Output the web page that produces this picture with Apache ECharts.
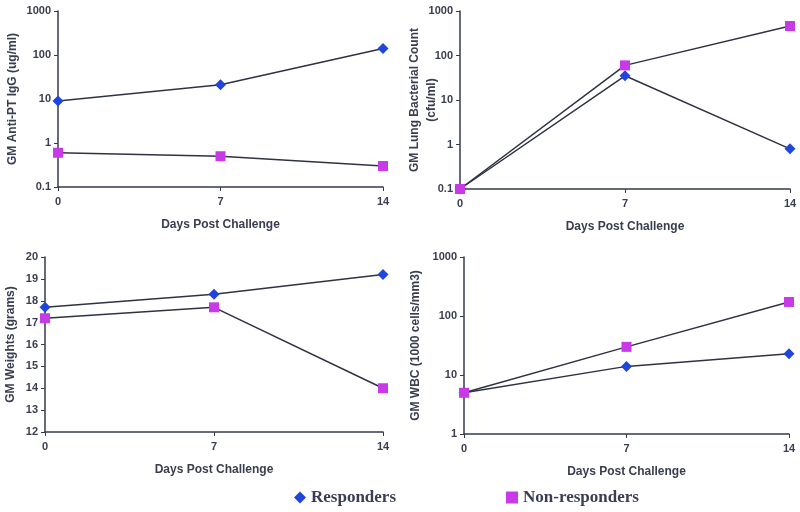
<!DOCTYPE html>
<html>
<head>
<meta charset="utf-8">
<script src="https://cdn.jsdelivr.net/npm/echarts@6/dist/echarts.min.js"></script>
<style>
  html, body { margin: 0; padding: 0; background: #fff; }
  #chart { width: 800px; height: 512px; }
</style>
</head>
<body>
<div id="chart"></div>
<script>
// days after challenge
const days = [0, 7, 14];

// GM anti-PT IgG (ug/ml)
const iggResp = [9, 21, 140];
const iggNon = [0.6, 0.5, 0.3];

// GM lung bacterial count (cfu/ml)
const lungResp = [0.1, 35, 0.8];
const lungNon = [0.1, 60, 460];

// GM weights (grams)
const weightResp = [17.7, 18.3, 19.2];
const weightNon = [17.2, 17.7, 14.0];

// GM WBC (1000 cells/mm3)
const wbcResp = [5, 14, 23];
const wbcNon = [5, 30, 173];

const axisColor = '#363a4c';
const textColor = '#3a3d4f';
const font = 'Liberation Sans';

const pairs = arr => days.map((d, i) => [d, arr[i]]);

const grids = [
  { left: 58, top: 11, width: 325, height: 176 },
  { left: 460, top: 11, width: 330, height: 178 },
  { left: 45, top: 257, width: 338, height: 175 },
  { left: 464, top: 257, width: 325, height: 177 }
];

const xAxis = grids.map((g, i) => ({
  type: 'value',
  gridIndex: i,
  min: 0,
  max: 14,
  interval: 7,
  name: 'Days Post Challenge',
  nameLocation: 'middle',
  nameGap: 32,
  nameTextStyle: { color: textColor, fontFamily: font, fontWeight: 'bold', fontSize: 12 },
  axisLine: { lineStyle: { color: axisColor, width: 1.5 } },
  axisTick: { show: true, length: 4, lineStyle: { color: axisColor } },
  axisLabel: { color: textColor, fontFamily: font, fontWeight: 'bold', fontSize: 11, margin: 9 },
  splitLine: { show: false }
}));

const yBase = {
  axisLine: { show: true, lineStyle: { color: axisColor, width: 1.5 } },
  axisTick: { show: true, length: 4, lineStyle: { color: axisColor } },
  axisLabel: { color: textColor, fontFamily: font, fontWeight: 'bold', fontSize: 11, margin: 7,
    formatter: v => String(v) },
  splitLine: { show: false },
  minorTick: { show: false },
  nameLocation: 'middle',
  nameMoveOverlap: false,
  nameTextStyle: { color: textColor, fontFamily: font, fontWeight: 'bold', fontSize: 12, lineHeight: 17 }
};

const yAxis = [
  Object.assign({}, yBase, { gridIndex: 0, type: 'log', logBase: 10, min: 0.1, max: 1000,
    name: 'GM Anti-PT IgG (ug/ml)', nameGap: 37 }),
  Object.assign({}, yBase, { gridIndex: 1, type: 'log', logBase: 10, min: 0.1, max: 1000,
    name: 'GM Lung Bacterial Count\n(cfu/ml)', nameGap: 20 }),
  Object.assign({}, yBase, { gridIndex: 2, type: 'value', min: 12, max: 20, interval: 1,
    name: 'GM Weights (grams)', nameGap: 26 }),
  Object.assign({}, yBase, { gridIndex: 3, type: 'log', logBase: 10, min: 1, max: 1000,
    name: 'GM WBC (1000 cells/mm3)', nameGap: 40 })
];

const respSets = [iggResp, lungResp, weightResp, wbcResp];
const nonSets = [iggNon, lungNon, weightNon, wbcNon];

const series = [];
grids.forEach((g, i) => {
  series.push({
    name: 'Responders',
    type: 'line',
    xAxisIndex: i,
    yAxisIndex: i,
    data: pairs(respSets[i]),
    symbol: 'diamond',
    symbolSize: 11,
    itemStyle: { color: '#1f45dd' },
    lineStyle: { color: '#2f3242', width: 1.5 },
    z: 2
  });
  series.push({
    name: 'Non-responders',
    type: 'line',
    xAxisIndex: i,
    yAxisIndex: i,
    data: pairs(nonSets[i]),
    symbol: 'rect',
    symbolSize: 10,
    itemStyle: { color: '#c83ae8' },
    lineStyle: { color: '#2f3242', width: 1.5 },
    z: 3
  });
});

const chart = echarts.init(document.getElementById('chart'));
chart.setOption({
  animation: false,
  backgroundColor: '#fff',
  legend: {
    left: 294,
    top: 489,
    padding: 0,
    itemGap: 110,
    itemWidth: 12,
    itemHeight: 12,
    data: [
      { name: 'Responders', icon: 'diamond' },
      { name: 'Non-responders', icon: 'rect' }
    ],
    textStyle: { color: '#3b3d55', fontFamily: 'Liberation Serif', fontWeight: 'bold', fontSize: 17 }
  },
  grid: grids,
  xAxis: xAxis,
  yAxis: yAxis,
  series: series
});
</script>
</body>
</html>
